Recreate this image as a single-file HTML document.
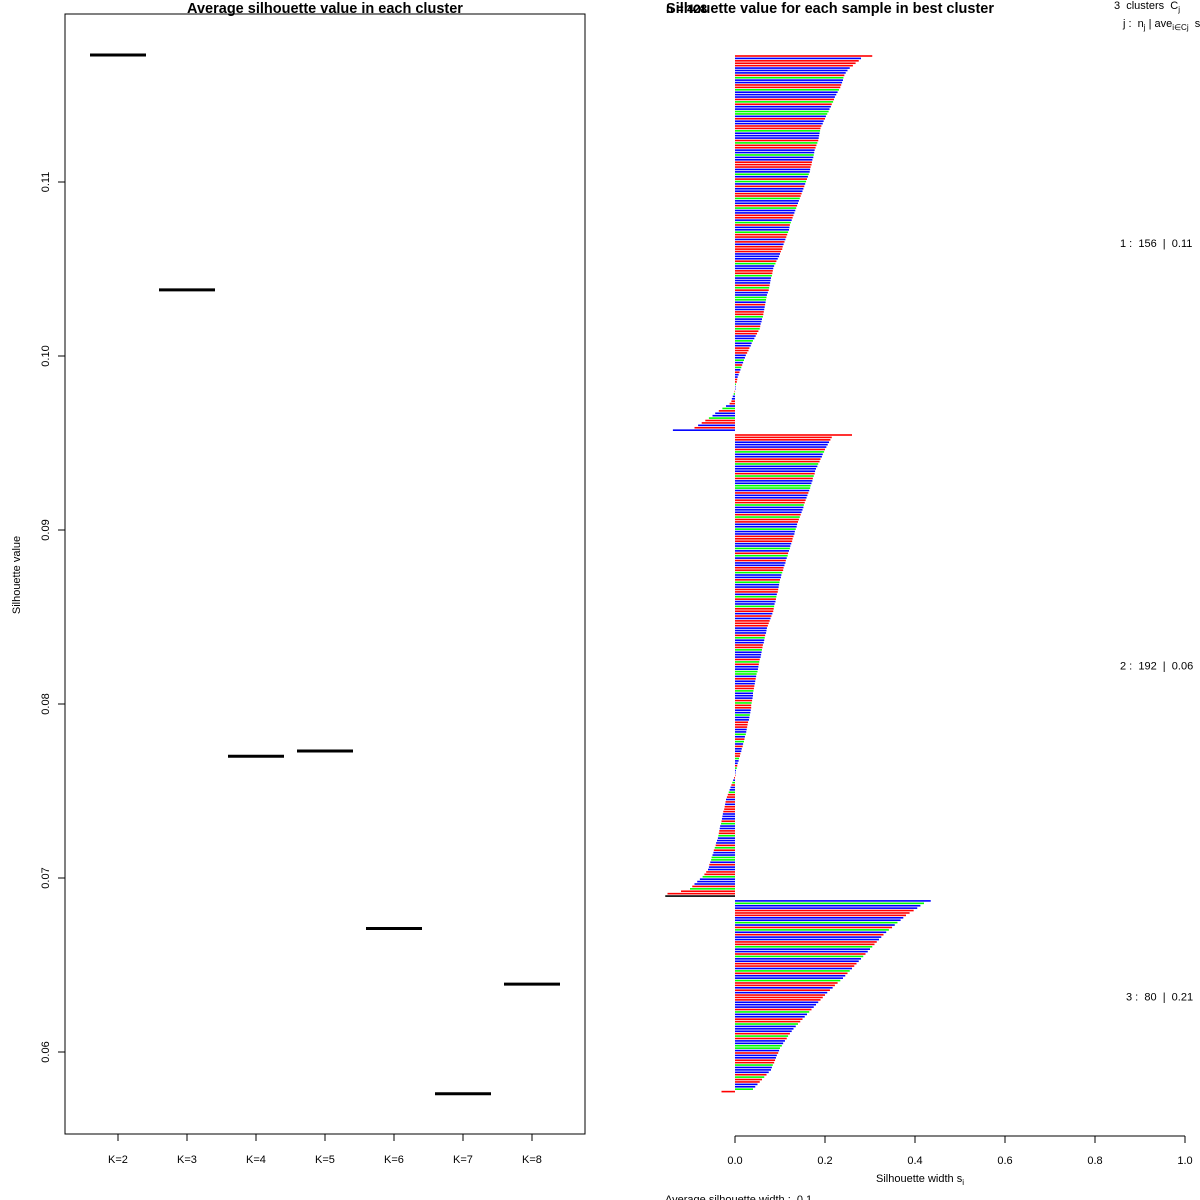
<!DOCTYPE html>
<html><head><meta charset="utf-8"><style>
html,body{margin:0;padding:0;background:#fff;}
svg{display:block;font-family:"Liberation Sans",sans-serif;}
text{white-space:pre;}
</style></head><body>
<svg id="chart" width="1200" height="1200" viewBox="0 0 1200 1200" xmlns="http://www.w3.org/2000/svg">
<rect width="1200" height="1200" fill="#fff"/>
<g id="left">
<text x="325" y="13" text-anchor="middle" font-size="14.5" font-weight="bold">Average silhouette value in each cluster</text>
<rect x="65" y="14" width="520" height="1120" fill="none" stroke="#000" stroke-width="1"/>
<text transform="translate(20,575) rotate(-90)" text-anchor="middle" font-size="11">Silhouette value</text>
</g>
<g id="right">
<text x="666" y="13" font-size="12" font-weight="bold">n = 428</text>
<text x="830" y="13" text-anchor="middle" font-size="14.5" font-weight="bold">Silhouette value for each sample in best cluster</text>
<text x="1114" y="9" font-size="11">3  clusters  C<tspan font-size="8" dy="3">j</tspan></text>
<text x="1123" y="27" font-size="11">j :  n<tspan font-size="8" dy="3">j</tspan><tspan dy="-3"> | ave</tspan><tspan font-size="8" dy="3">i∈Cj</tspan><tspan dy="-3">  s</tspan><tspan font-size="8" dy="3">i</tspan></text>
<text x="876" y="1182" font-size="11">Silhouette width s<tspan font-size="8" dy="3">i</tspan></text>
<text x="665" y="1203" font-size="11">Average silhouette width :  0.1</text>
</g>
</svg>
<script>
// Left panel data
const kLabels = ["K=2","K=3","K=4","K=5","K=6","K=7","K=8"];
const avgSil = [0.1173,0.1038,0.0770,0.0773,0.0671,0.0576,0.0639];
const yTicks = [0.06,0.07,0.08,0.09,0.10,0.11];
const yTickLabels = ["0.06","0.07","0.08","0.09","0.10","0.11"];

// Right panel data (silhouette widths, thousandths, sorted per cluster)
const cluster1 = [305,280,275,268,262,255,250,246,243,241,240,238,236,234,231,228,225,222,220,218,215,213,210,208,205,202,200,197,195,192,190,189,188,187,186,185,183,181,179,177,176,175,174,172,171,170,168,167,166,164,162,160,158,156,154,152,150,148,146,144,142,140,138,136,134,132,130,128,126,124,122,121,120,118,116,114,112,110,108,106,105,102,100,98,95,92,90,87,85,84,83,82,80,79,78,77,76,75,73,71,70,69,68,67,66,65,64,63,62,60,59,57,56,55,52,49,46,43,40,37,35,32,30,27,24,22,20,18,16,14,12,10,8,6,5,4,2,1,0,-1,-3,-5,-7,-8,-12,-20,-28,-36,-44,-50,-58,-66,-74,-82,-90,-138];
const cluster2 = [260,215,212,209,206,203,200,198,195,193,190,188,185,183,180,178,177,175,173,172,170,168,167,165,163,161,159,157,155,153,152,150,148,146,144,142,140,138,137,135,133,132,130,128,127,125,123,122,120,118,117,115,113,112,110,108,107,105,103,102,100,99,98,97,96,95,93,92,91,90,88,87,86,85,83,81,79,77,75,73,71,70,69,67,66,65,64,62,61,60,59,58,57,55,54,53,52,51,50,48,47,46,45,44,43,42,41,40,40,39,38,37,36,36,35,34,33,32,31,29,28,27,26,25,24,22,21,20,18,17,15,14,12,11,9,8,6,5,4,2,1,0,-2,-4,-6,-8,-10,-12,-14,-16,-18,-20,-21,-22,-23,-24,-26,-27,-28,-29,-30,-31,-33,-34,-35,-36,-37,-38,-40,-42,-43,-45,-47,-48,-50,-52,-53,-55,-57,-58,-60,-64,-68,-72,-78,-84,-90,-95,-100,-120,-150,-155];
const cluster3 = [435,420,412,405,397,388,380,374,368,361,355,349,342,336,330,325,320,315,310,305,300,295,290,285,280,275,270,265,260,255,250,245,240,234,228,222,217,211,205,200,195,190,185,180,175,170,165,160,155,150,145,140,135,130,126,122,118,115,111,107,104,100,98,96,93,91,89,87,84,82,80,75,70,65,60,55,50,45,40,-30];
const sampleClassCodes = "rbrrrbbbrgbbrrgbbbrgrbbggbrbbrrgbbbrgrrbbgbbrrrbbgbrgbrbbrrgbbrgbbrrbgrbbgrrb";
const clusterLabels = ["1 :  156  |  0.11","2 :  192  |  0.06","3 :  80  |  0.21"];
const xTicks = [0,0.2,0.4,0.6,0.8,1.0];
const xTickLabels = ["0.0","0.2","0.4","0.6","0.8","1.0"];

const NS = "http://www.w3.org/2000/svg";
const left = document.getElementById("left");
const right = document.getElementById("right");
function mk(tag, attrs, parent){const e=document.createElementNS(NS,tag);for(const k in attrs)e.setAttribute(k,attrs[k]);parent.appendChild(e);return e;}

const yScale = v => 1052 - (v-0.06)*17400;
const xK = i => 118 + i*69;
yTicks.forEach((t,i)=>{
  const y=yScale(t);
  const l=mk("line",{x1:58,x2:65,y1:y,y2:y,stroke:"#000"},left);
  
  
  const tx=mk("text",{transform:`translate(49,${y}) rotate(-90)`,"text-anchor":"middle","font-size":"11"},left);
  tx.textContent=yTickLabels[i];
  
  
});
kLabels.forEach((k,i)=>{
  const x=xK(i);
  const l=mk("line",{x1:x,x2:x,y1:1134,y2:1141,stroke:"#000"},left);
  
  
  const tx=mk("text",{x:x,y:1163,"text-anchor":"middle","font-size":"11"},left);
  tx.textContent=k;
  
  
  const y=yScale(avgSil[i]);
  const s=mk("line",{x1:x-28,x2:x+28,y1:y,y2:y,stroke:"#000","stroke-width":3},left);
  
  
});

const x0 = 735, xPerUnit = 450;
const xs = v => x0 + v*xPerUnit;
const rowY = r => 56 + r*2.414;
const colors = {r:"#ff0000",b:"#0000ff",g:"#00ff00"};
const clusters=[cluster1,cluster2,cluster3];
let row=0, idx=0;
const labelYs=[];
clusters.forEach((cl,ci)=>{
  const startRow=row;
  cl.forEach((v,j)=>{
    const val=v/1000;
    const y=rowY(row);
    const xa=Math.min(xs(0),xs(val)), w=Math.abs(xs(val)-xs(0));
    let c=colors[sampleClassCodes[idx%sampleClassCodes.length]];
    if(j===cl.length-1 && v<0) c = (ci===2?"#ff0000":(ci===0?"#0000ff":"#000000"));
    const b=mk("rect",{x:xa,y:y-0.8,width:Math.max(w,0.5),height:1.6,fill:c},right);
    
    
    row++; idx++;
  });
  labelYs.push(rowY((startRow+row-1)/2));
  row++;
});
clusterLabels.forEach((t,i)=>{
  const tx=mk("text",{x:(i===2?1126:1120),y:labelYs[i]+4,"font-size":"11"},right);
  tx.textContent=t;
  
  
});
const ax=mk("line",{x1:xs(0),x2:xs(1),y1:1136,y2:1136,stroke:"#000"},right);


xTicks.forEach((t,i)=>{
  const x=xs(t);
  const l=mk("line",{x1:x,x2:x,y1:1136,y2:1143,stroke:"#000"},right);
  
  
  const tx=mk("text",{x:x,y:1164,"text-anchor":"middle","font-size":"11"},right);
  tx.textContent=xTickLabels[i];
  
  
});
</script>
</body></html>
